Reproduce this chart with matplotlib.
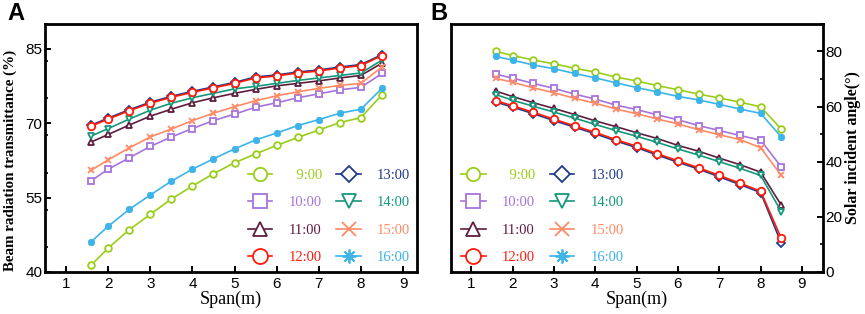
import numpy as np
import matplotlib.pyplot as plt
from matplotlib.ticker import MultipleLocator

# Span positions (m)
span = [1.6, 2.0, 2.5, 3.0, 3.5, 4.0, 4.5, 5.0, 5.5, 6.0, 6.5, 7.0, 7.5, 8.0, 8.5]
hours = ['9:00', '10:00', '11:00', '12:00', '13:00', '14:00', '15:00', '16:00']

# Panel A: beam radiation transmittance (%)
trans_0900 = [41.4, 44.8, 48.5, 51.6, 54.7, 57.3, 59.8, 62.0, 63.8, 65.5, 67.1, 68.6, 70.1, 71.1, 75.7]
trans_1000 = [58.4, 60.7, 63.0, 65.3, 67.2, 68.9, 70.5, 71.8, 73.2, 74.1, 75.1, 75.9, 76.7, 77.2, 80.0]
trans_1100 = [66.2, 67.7, 69.6, 71.4, 72.8, 74.1, 75.1, 76.0, 76.8, 77.5, 78.0, 78.5, 79.1, 79.6, 82.1]
trans_1200 = [69.4, 70.8, 72.5, 74.0, 75.2, 76.2, 77.1, 78.0, 79.1, 79.5, 80.1, 80.5, 81.1, 81.6, 83.6]
trans_1300 = [69.6, 71.0, 72.7, 74.2, 75.4, 76.4, 77.3, 78.2, 79.3, 79.7, 80.3, 80.7, 81.3, 81.8, 83.8]
trans_1400 = [67.4, 68.9, 70.8, 72.6, 74.0, 75.1, 76.0, 76.9, 77.4, 78.0, 78.6, 79.1, 79.6, 80.1, 82.7]
trans_1500 = [60.5, 62.6, 65.0, 67.2, 68.8, 70.5, 72.0, 73.3, 74.5, 75.5, 76.3, 77.0, 77.6, 78.0, 81.3]
trans_1600 = [46.1, 49.2, 52.6, 55.5, 58.3, 60.7, 62.8, 64.8, 66.6, 68.0, 69.5, 70.7, 72.0, 72.8, 77.0]

# Panel B: solar incident angle (deg)
angle_0900 = [80.0, 78.5, 76.9, 75.5, 73.9, 72.5, 70.7, 69.3, 67.6, 66.1, 64.5, 63.1, 61.6, 59.9, 51.8]
angle_1000 = [71.7, 70.3, 68.4, 66.6, 64.5, 62.7, 60.5, 58.9, 57.0, 55.2, 53.1, 51.3, 49.5, 47.8, 38.1]
angle_1100 = [65.6, 63.6, 61.4, 59.3, 57.1, 54.8, 52.7, 50.5, 48.4, 45.9, 43.8, 41.3, 38.9, 36.2, 24.2]
angle_1200 = [62.1, 60.3, 57.9, 55.4, 53.0, 50.6, 48.0, 45.6, 42.9, 40.3, 37.8, 35.0, 32.2, 29.3, 12.2]
angle_1300 = [61.6, 59.8, 57.4, 54.9, 52.5, 50.1, 47.5, 45.1, 42.4, 39.8, 37.3, 34.5, 31.7, 28.8, 10.4]
angle_1400 = [64.3, 62.3, 60.1, 58.0, 55.8, 53.5, 51.3, 49.2, 47.0, 44.6, 42.4, 40.0, 37.6, 35.0, 21.9]
angle_1500 = [70.2, 68.8, 66.8, 65.0, 63.0, 61.2, 59.1, 57.4, 55.5, 53.7, 51.6, 49.8, 48.0, 45.1, 35.0]
angle_1600 = [78.2, 76.8, 75.1, 73.7, 72.0, 70.4, 68.6, 66.9, 65.3, 63.7, 62.4, 60.8, 59.1, 57.5, 49.0]

trans_ticks = [40, 55, 70, 85]

colors = ['#9ACD1A', '#A673DC', '#5E1D3E', '#FF1A0A', '#1F3A8A', '#15977A', '#FF8A66', '#3CB4EA']
markers = ['o', 's', '^', 'o', 'D', 'v', 'x', (8, 2, 0)]
msizes = [4.8, 4.8, 4.8, 5.4, 4.0, 4.8, 4.8, 5.0]

trans = [trans_0900, trans_1000, trans_1100, trans_1200,
         trans_1300, trans_1400, trans_1500, trans_1600]
angle = [angle_0900, angle_1000, angle_1100, angle_1200,
         angle_1300, angle_1400, angle_1500, angle_1600]

serif = ['Liberation Serif', 'DejaVu Serif']
sans = ['Liberation Sans', 'DejaVu Sans']
plt.rcParams['font.family'] = sans


def draw(ax, series):
    for k, (h, y) in enumerate(zip(hours, series)):
        face = colors[k] if k == 7 else 'white'
        # right-align the single digit hour like in the original legend
        label = '\u2007' + h if len(h) == 4 else h
        ax.plot(span, y, color=colors[k], marker=markers[k], ms=msizes[k],
                mfc=face, mec=colors[k], mew=1.3, lw=1.2, label=label,
                zorder=5 if h == '12:00' else 3)


def add_legend(ax, loc, anchor):
    leg = ax.legend(ncol=2, loc=loc, bbox_to_anchor=anchor, frameon=False,
                    markerscale=2.0, handlelength=1.7, handletextpad=1.1,
                    columnspacing=1.0, labelspacing=0.98, borderpad=0.2,
                    prop={'family': serif, 'size': 10.5})
    for t, c in zip(leg.get_texts(), colors):
        t.set_color(c)
    return leg


def style_axes(ax):
    for s in ax.spines.values():
        s.set_linewidth(2)
    ax.tick_params(direction='in', labelsize=11, width=1.4, length=4)
    ax.tick_params(which='minor', direction='in', width=1.2, length=2.5)
    ax.xaxis.set_major_locator(MultipleLocator(1))
    ax.set_xlabel('Span(m)', family=serif, fontsize=13, labelpad=0)


fig = plt.figure(figsize=(8.65, 3.14), dpi=100)
axA = fig.add_axes([0.052, 0.134, 0.430, 0.790])
axB = fig.add_axes([0.521, 0.134, 0.430, 0.790])

# Panel A
draw(axA, trans)
axA.set_xlim(0.5, 9.33)
axA.set_ylim(40, 90)
axA.set_yticks(trans_ticks)
axA.yaxis.set_minor_locator(MultipleLocator(7.5))
style_axes(axA)
axA.set_ylabel('Beam radiation transmittance (%)', family=serif,
               fontweight='bold', fontsize=10.8, labelpad=2)
axA.yaxis.set_label_coords(-0.075, 0.45)
axA.tick_params(axis='y', pad=2)
add_legend(axA, 'lower right', (1.01, -0.01))

# Panel B
draw(axB, angle)
axB.set_xlim(0.5, 9.5)
axB.set_ylim(0, 90)
axB.yaxis.set_major_locator(MultipleLocator(20))
axB.yaxis.set_minor_locator(MultipleLocator(10))
style_axes(axB)
axB.yaxis.tick_right()
axB.yaxis.set_label_position('right')
axB.tick_params(axis='y', which='both', left=False, right=True, pad=2)
axB.set_ylabel('Solar incident angle(°)', family=serif,
               fontweight='bold', fontsize=11.5, labelpad=2)
add_legend(axB, 'lower left', (0.0, -0.01))

fig.text(0.008, 0.935, 'A', fontsize=17, fontweight='bold', family=sans)
fig.text(0.497, 0.935, 'B', fontsize=17, fontweight='bold', family=sans)

fig.savefig('out.png', dpi=100)
